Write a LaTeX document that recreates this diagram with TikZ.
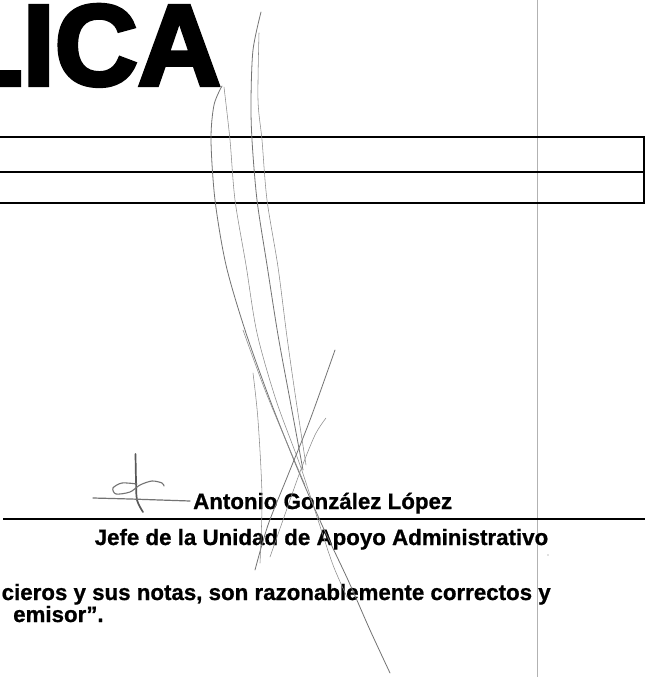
\documentclass[tikz,border=0pt]{standalone}
\usepackage{fontspec}
\setmainfont{Liberation Sans}
\newfontfamily\myheavyfont[FakeBold=3.5]{Liberation Sans Bold}
\newfontfamily\mybodyfont[FakeBold=0.8]{Liberation Sans Bold}
\begin{document}
\begin{tikzpicture}[x=1pt,y=-1pt,
  txt/.style={inner sep=0pt, font=\mybodyfont\fontsize{22.3}{26}\selectfont},
  rule/.style={line width=2pt, black},
  sigline/.style={line width=2.4pt, black},
  pageline/.style={line width=0.7pt, black!30},
  pen/.style={line width=0.8pt, black!55, line cap=round},
  penthin/.style={line width=0.55pt, black!45, line cap=round},
  pendark/.style={line width=1.7pt, black!65, line cap=round}]
\useasboundingbox (0,0) rectangle (650,677);
\fill[white] (0,0) rectangle (650,677);

% big title fragment
\node[inner sep=0pt, anchor=base east, font=\myheavyfont\fontsize{115}{120}\selectfont] (title) at (221,85) {LICA};

% page fold line
\draw[pageline] (537.5,0) -- (537.5,677);

% boxes
\draw[rule] (-2,137) -- (644,137) -- (644,203) -- (-2,203);
\draw[rule] (-2,171.5) -- (644,171.5);

% signature line and names
\draw[sigline] (3,519) -- (645,519);
\node[txt, anchor=base west] (name) at (193,509) {Antonio González López};
\node[txt, anchor=base west] (role) at (94.5,545) {Jefe de la Unidad de Apoyo Administrativo};

% body text
\node[txt, anchor=base west] (l1) at (1.5,600) {cieros y sus notas, son razonablemente correctos y};
\node[txt, anchor=base west] (l2) at (13,622) {emisor”.};

% handwritten signature strokes
\draw[pen] plot[smooth] coordinates {(222,86) (214,105) (211,140) (215,200) (226,265) (245,330) (270,400) (298,470) (322,525) (348,580) (370,630) (390,673)};
\draw[penthin] plot[smooth] coordinates {(224,87) (230,140) (235,200) (246,265) (257,333) (276,400) (300,465) (318,520) (333,565) (347,597)};
\draw[pen] plot[smooth] coordinates {(261,12) (253,50) (251,100) (252,140) (257,200) (267,265) (278,335) (290,400) (303,470)};
\draw[penthin] plot[smooth] coordinates {(259,33) (258,100) (262,140) (267,200) (278,267) (287,337) (296,400) (306,465)};
\draw[penthin] plot[smooth] coordinates {(243,330) (265,390) (290,450) (305,485)};
\draw[pen] plot[smooth] coordinates {(255,570) (268,525) (288,475) (310,420) (335,350)};
\draw[penthin] plot[smooth] coordinates {(270,557) (283,520) (300,472) (315,435) (326,418)};
\draw[penthin] plot[smooth] coordinates {(253,373) (258,420) (262,497) (260,563)};

% small initial mark
\draw[pendark] plot[smooth] coordinates {(135.5,454) (136,480) (137,500) (143,512)};
\draw[pen, line width=1.2pt] plot[smooth] coordinates {(93,498) (130,499) (160,500) (190,501)};
\draw[pen, line width=1.1pt] plot[smooth] coordinates {(137,484) (122,483) (113,488) (116,494) (130,492) (140,485) (152,481) (162,483) (164,486)};

% speck
\fill[black!50] (548,555) circle (0.7);
\end{tikzpicture}
\end{document}
